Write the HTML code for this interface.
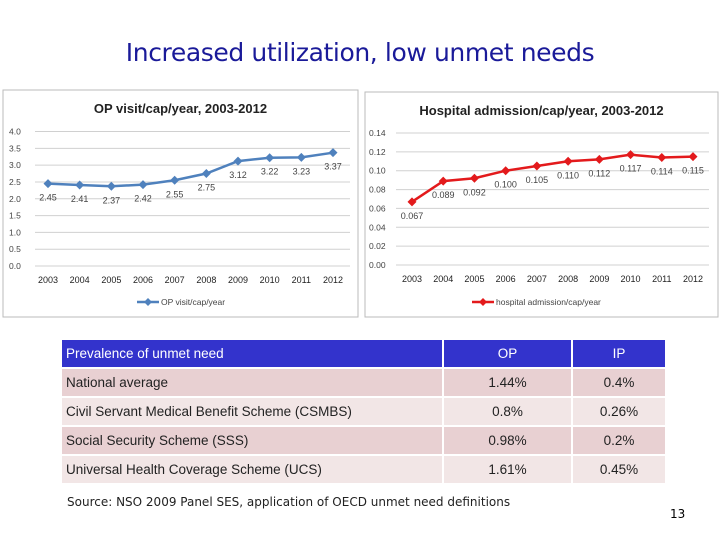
<!DOCTYPE html>
<html><head><meta charset="utf-8"><style>
body{margin:0;width:720px;height:540px;background:#fff;position:relative;overflow:hidden;font-family:"Liberation Sans",sans-serif}
.t{position:absolute;left:0;width:720px;top:38px;text-align:center;font-size:25px;color:#1a1a99;font-family:"DejaVu Sans","Liberation Sans",sans-serif;letter-spacing:-0.4px}
.tbl{position:absolute;left:60px;top:338px;border-collapse:separate;border-spacing:2px;font-family:"Liberation Sans",sans-serif;font-size:13.5px;color:#222}
.tbl td{padding:0 4px;height:27px}
.tbl tr.h td{background:#3333cc;color:#fff}
.tbl tr.a td{background:#e8d0d2}
.tbl tr.b td{background:#f2e6e6}
.c{text-align:center}
.src{position:absolute;left:67px;top:495px;font-size:12px;font-family:"DejaVu Sans",sans-serif;color:#222}
.pg{position:absolute;left:670px;top:507px;font-size:12px;font-family:"DejaVu Sans",sans-serif}
</style></head><body>
<div class="t">Increased utilization, low unmet needs</div>
<svg id="sv" width="720" height="540" style="position:absolute;left:0;top:0"></svg>
<table class="tbl">
<tr class="h"><td style="width:372px">Prevalence of unmet need</td><td class="c" style="width:119px">OP</td><td class="c" style="width:84px">IP</td></tr>
<tr class="a"><td>National average</td><td class="c">1.44%</td><td class="c">0.4%</td></tr>
<tr class="b"><td>Civil Servant Medical Benefit Scheme (CSMBS)</td><td class="c">0.8%</td><td class="c">0.26%</td></tr>
<tr class="a"><td>Social Security Scheme (SSS)</td><td class="c">0.98%</td><td class="c">0.2%</td></tr>
<tr class="b"><td>Universal Health Coverage Scheme (UCS)</td><td class="c">1.61%</td><td class="c">0.45%</td></tr>
</table>
<div class="src">Source: NSO 2009 Panel SES, application of OECD unmet need definitions</div>
<div class="pg">13</div>
<script>
const years=["2003","2004","2005","2006","2007","2008","2009","2010","2011","2012"];
const opValues=[2.45,2.41,2.37,2.42,2.55,2.75,3.12,3.22,3.23,3.37];
const opLabels=["2.45","2.41","2.37","2.42","2.55","2.75","3.12","3.22","3.23","3.37"];
const opTicks=[0,0.5,1,1.5,2,2.5,3,3.5,4];
const ipValues=[0.067,0.089,0.092,0.100,0.105,0.110,0.112,0.117,0.114,0.115];
const ipLabels=["0.067","0.089","0.092","0.100","0.105","0.110","0.112","0.117","0.114","0.115"];
const ipTicks=[0,0.02,0.04,0.06,0.08,0.10,0.12,0.14];
const NS="http://www.w3.org/2000/svg",sv=document.getElementById('sv');
function mk(t,a,txt){const e=document.createElementNS(NS,t);for(const k in a)e.setAttribute(k,a[k]);if(txt!=null)e.textContent=txt;sv.appendChild(e);return e;}
function chart(o){
 const fr=mk('rect',{x:o.fx,y:o.fy,width:o.fw,height:o.fh,fill:'#fff',stroke:'#bbb'});
 
 const tt=mk('text',{x:o.fx+o.fw/2,y:o.fy+23,'text-anchor':'middle','font-size':13,'font-weight':'bold',fill:'#222'},o.title);
 
 const ymax=o.ticks[o.ticks.length-1];
 const Y=v=>o.y0-(v/ymax)*(o.y0-o.y1);
 const X=i=>o.x0+i*(o.x1-o.x0)/(years.length-1);
 o.ticks.forEach(t=>{const g=mk('line',{x1:o.gx0,x2:o.gx1,y1:Y(t),y2:Y(t),stroke:'#d0d0d0'});
  
  const l=mk('text',{x:o.lx,y:Y(t)+3,'font-size':8.5,fill:'#444'},t.toFixed(o.dec));
  });
 years.forEach((y,i)=>{const l=mk('text',{x:X(i),y:o.y0+17,'text-anchor':'middle','font-size':9,fill:'#222'},y);
  });
 const pl=mk('polyline',{points:o.vals.map((v,i)=>X(i)+','+Y(v)).join(' '),fill:'none',stroke:o.col,'stroke-width':2.5});
 
 o.vals.forEach((v,i)=>{const x=X(i),y=Y(v);
  const m=mk('polygon',{points:`${x},${y-4.5} ${x+4.5},${y} ${x},${y+4.5} ${x-4.5},${y}`,fill:o.col});
  
  const l=mk('text',{x:x,y:y+17,'text-anchor':'middle','font-size':9,fill:'#444'},o.labs[i]);
  });
 const lx=o.legx;
 const ll=mk('line',{x1:lx,x2:lx+22,y1:o.fy+o.fh-15,y2:o.fy+o.fh-15,stroke:o.col,'stroke-width':2.5});
 
 const lm=mk('polygon',{points:`${lx+11},${o.fy+o.fh-19} ${lx+15},${o.fy+o.fh-15} ${lx+11},${o.fy+o.fh-11} ${lx+7},${o.fy+o.fh-15}`,fill:o.col});
 
 const lt=mk('text',{x:lx+24,y:o.fy+o.fh-12,'font-size':8.5,fill:'#444'},o.leg);
 
}
chart({name:'op-chart',fx:3,fy:90,fw:355,fh:227,title:'OP visit/cap/year, 2003-2012',ticks:opTicks,dec:1,vals:opValues,labs:opLabels,
 col:'#4f81bd',x0:48,x1:333,y0:266,y1:131.5,gx0:35,gx1:350,lx:9,legx:137,leg:'OP visit/cap/year'});
chart({name:'ip-chart',fx:365,fy:92,fw:353,fh:225,title:'Hospital admission/cap/year, 2003-2012',ticks:ipTicks,dec:2,vals:ipValues,labs:ipLabels,
 col:'#e31a1c',x0:412,x1:693,y0:265,y1:133,gx0:396,gx1:709,lx:369,legx:472,leg:'hospital admission/cap/year'});
</script>
</body></html>
